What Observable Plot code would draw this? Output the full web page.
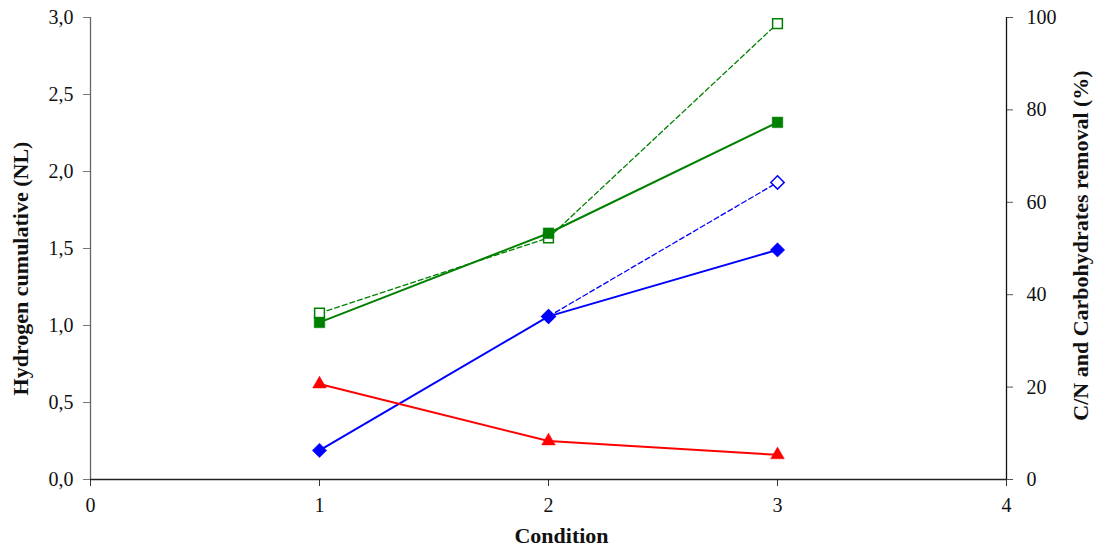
<!DOCTYPE html>
<html>
<head>
<meta charset="utf-8">
<script src="https://cdn.jsdelivr.net/npm/d3@7"></script>
<script src="https://cdn.jsdelivr.net/npm/@observablehq/plot@0.6"></script>
<style>
  html, body { margin: 0; padding: 0; background: #fff; }
  #chart svg, #chart svg text { font-family: "Liberation Serif", "Times New Roman", serif !important; }
  #chart svg { display: block; }
</style>
</head>
<body>
<div id="chart"></div>
<script>
// Categories (x = Condition)
const conditions = [1, 2, 3];
// Left axis: Hydrogen cumulative (NL)
const hydrogen = [0.62, 0.25, 0.16];
// Right axis: C/N and Carbohydrates removal (%)
const greenSolid = [34.0, 53.3, 77.3];
const greenDashed = [36.0, 52.3, 98.7];
const blueSolid = [6.3, 35.3, 49.7];
const blueDashedConditions = [2, 3];
const blueDashed = [35.3, 64.3];

// Tick labels
const xTicks = [0, 1, 2, 3, 4];
const leftTicks = [0, 0.5, 1.0, 1.5, 2.0, 2.5, 3.0];
const rightTicks = [0, 20, 40, 60, 80, 100];

const leftMax = 3, rightMax = 100;
const toLeft = p => p * leftMax / rightMax;

const mk = (xs, ys, conv) => xs.map((x, i) => ({x, y: conv ? toLeft(ys[i]) : ys[i]}));

const dHyd = mk(conditions, hydrogen, false);
const dGS = mk(conditions, greenSolid, true);
const dGD = mk(conditions, greenDashed, true);
const dBS = mk(conditions, blueSolid, true);
const dBD = mk(blueDashedConditions, blueDashed, true);

const GREEN = "#008000", BLUE = "#0000ff", RED = "#ff0000";
const FONT = "'Liberation Serif', 'Times New Roman', serif";
const fmtComma = d => d.toFixed(1).replace(".", ",");

const chart = Plot.plot({
  width: 1094,
  height: 548,
  marginLeft: 90,
  marginRight: 88,
  marginTop: 17,
  marginBottom: 69,
  style: `font-family: ${FONT}; background: #fff;`,
  x: {domain: [0, 4]},
  y: {domain: [0, 3]},
  marks: [
    Plot.axisX({ticks: xTicks, tickFormat: d => String(d), tickSize: 7, tickPadding: 11, fontSize: 20, fontFamily: FONT, label: null, color: "#111", stroke: "#333"}),
    Plot.axisY({anchor: "left", ticks: leftTicks, tickFormat: fmtComma, tickSize: 7, tickPadding: 10, fontSize: 20, fontFamily: FONT, label: null, color: "#111", stroke: "#777"}),
    Plot.axisY({anchor: "right", ticks: rightTicks.map(toLeft), tickFormat: d => String(Math.round(d * rightMax / leftMax)), tickSize: 6, tickPadding: 14, fontSize: 20, fontFamily: FONT, label: null, color: "#111", stroke: "#555"}),
    Plot.ruleX([0], {stroke: "#666", strokeWidth: 1.3}),
    Plot.ruleX([4], {stroke: "#111", strokeWidth: 1.3}),
    Plot.ruleY([0], {stroke: "#222", strokeWidth: 1.3}),

    // Green dashed (open squares)
    Plot.line(dGD, {x: "x", y: "y", stroke: GREEN, strokeWidth: 1.3, strokeDasharray: "5,3"}),
    // Green solid (filled squares)
    Plot.line(dGS, {x: "x", y: "y", stroke: GREEN, strokeWidth: 2}),
    // Blue dashed (open diamonds)
    Plot.line(dBD, {x: "x", y: "y", stroke: BLUE, strokeWidth: 1.3, strokeDasharray: "5,3"}),
    // Blue solid (filled diamonds)
    Plot.line(dBS, {x: "x", y: "y", stroke: BLUE, strokeWidth: 2}),
    // Red (triangles)
    Plot.line(dHyd, {x: "x", y: "y", stroke: RED, strokeWidth: 2}),

    Plot.dot(dGD, {x: "x", y: "y", symbol: "square", r: 5.5, fill: "white", stroke: GREEN, strokeWidth: 1.5}),
    Plot.dot(dGS, {x: "x", y: "y", symbol: "square", r: 6, fill: GREEN, stroke: GREEN, strokeWidth: 0.5}),
    Plot.dot(dBD, {x: "x", y: "y", symbol: "diamond2", r: 6, fill: "white", stroke: BLUE, strokeWidth: 1.5}),
    Plot.dot(dBS, {x: "x", y: "y", symbol: "diamond2", r: 6.5, fill: BLUE, stroke: BLUE, strokeWidth: 0.5}),
    Plot.dot(dHyd, {x: "x", y: "y", symbol: "triangle2", r: 6.5, fill: RED, stroke: RED, strokeWidth: 0.5}),

    // Axis titles
    Plot.text(["Hydrogen cumulative (NL)"], {frameAnchor: "left", dx: -70, dy: 20, rotate: -90, textAnchor: "middle", fontWeight: "bold", fontSize: 22, fontFamily: FONT, fill: "#111"}),
    Plot.text(["C/N and Carbohydrates removal (%)"], {frameAnchor: "right", dx: 74, dy: -3, rotate: -90, textAnchor: "middle", fontWeight: "bold", fontSize: 22, fontFamily: FONT, fill: "#111"}),
    Plot.text(["Condition"], {frameAnchor: "bottom", dy: 63, dx: 13, textAnchor: "middle", fontWeight: "bold", fontSize: 22, fontFamily: FONT, fill: "#111"})
  ]
});
document.getElementById("chart").appendChild(chart);
</script>
</body>
</html>
